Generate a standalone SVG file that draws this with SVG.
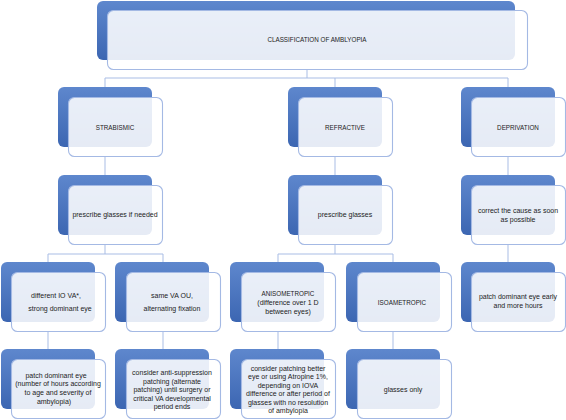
<svg xmlns="http://www.w3.org/2000/svg" width="566" height="420" viewBox="0 0 566 420">
<defs>
<linearGradient id="bg" x1="0" y1="0" x2="0" y2="1">
<stop offset="0" stop-color="#5e87cd"/>
<stop offset="1" stop-color="#3c66b2"/>
</linearGradient>
<style>
.blue{fill:url(#bg)}
.front{fill:#ffffff;fill-opacity:0.87;stroke:#a4b9e4;stroke-width:1.1}
.conn{stroke:#a9bde5;stroke-width:1;fill:none}
text{font-family:"Liberation Sans",Arial,sans-serif;font-size:7px;fill:#1c1c1c;text-anchor:middle}
.cap{font-size:6.3px}
</style>
</defs>
<rect width="566" height="420" fill="#ffffff"/>
<g id="connectors" class="conn">
<path d="M307 70V78M105 78H508M105 78V87M335 78V87M508 78V87"/>
<path d="M105 157V175M335 157V175M508 157V175"/>
<path d="M105 245V254M48 254H163M48 254V262M163 254V262"/>
<path d="M335 245V254M278 254H393M278 254V262M393 254V262"/>
<path d="M508 245V262"/>
<path d="M48 332V349M163 332V349M278 332V349M393 332V349"/>
</g>
<g id="root">
<rect class="blue" x="97" y="1" width="418" height="59" rx="6"/>
<rect class="front" x="107.5" y="10.5" width="420" height="59" rx="6"/>
<text class="cap" x="317" y="42">CLASSIFICATION OF AMBLYOPIA</text>
</g>
<g id="strabismic">
<rect class="blue" x="58" y="87" width="94" height="60" rx="6"/>
<rect class="front" x="68.5" y="97.5" width="94" height="59" rx="6"/>
<text class="cap" x="115" y="129.5">STRABISMIC</text>
</g>
<g id="refractive">
<rect class="blue" x="288" y="87" width="94" height="60" rx="6"/>
<rect class="front" x="298.5" y="97.5" width="94" height="59" rx="6"/>
<text class="cap" x="345" y="129.5">REFRACTIVE</text>
</g>
<g id="deprivation">
<rect class="blue" x="461" y="87" width="94" height="60" rx="6"/>
<rect class="front" x="471.5" y="97.5" width="94" height="59" rx="6"/>
<text class="cap" x="518" y="129.5">DEPRIVATION</text>
</g>
<g id="strab-glasses">
<rect class="blue" x="58" y="175" width="94" height="60" rx="6"/>
<rect class="front" x="68.5" y="185.5" width="94" height="59" rx="6"/>
<text x="115" y="217">prescribe glasses if needed</text>
</g>
<g id="refr-glasses">
<rect class="blue" x="288" y="175" width="94" height="60" rx="6"/>
<rect class="front" x="298.5" y="185.5" width="94" height="59" rx="6"/>
<text x="345" y="217">prescribe glasses</text>
</g>
<g id="depr-cause">
<rect class="blue" x="461" y="175" width="94" height="60" rx="6"/>
<rect class="front" x="471.5" y="185.5" width="94" height="59" rx="6"/>
<text x="518" y="212.5">correct the cause as soon</text>
<text x="518" y="221.5">as possible</text>
</g>
<g id="different-va">
<rect class="blue" x="1" y="262" width="94" height="60" rx="6"/>
<rect class="front" x="11.5" y="272.5" width="94" height="59" rx="6"/>
<text x="56" y="297.5">different IO VA*,</text>
<text x="60" y="310.5">strong dominant eye</text>
</g>
<g id="same-va">
<rect class="blue" x="115" y="262" width="94" height="60" rx="6"/>
<rect class="front" x="126.5" y="272.5" width="94" height="59" rx="6"/>
<text x="172" y="297.5">same VA OU,</text>
<text x="172" y="310.5">alternating fixation</text>
</g>
<g id="anisometropic">
<rect class="blue" x="230" y="262" width="94" height="60" rx="6"/>
<rect class="front" x="241.5" y="272.5" width="94" height="59" rx="6"/>
<text class="cap" x="288" y="295.5">ANISOMETROPIC</text>
<text x="288" y="304.5">(difference over 1 D</text>
<text x="288" y="313.5">between eyes)</text>
</g>
<g id="isoametropic">
<rect class="blue" x="346" y="262" width="94" height="60" rx="6"/>
<rect class="front" x="357.5" y="272.5" width="94" height="59" rx="6"/>
<text class="cap" x="402" y="304.5">ISOAMETROPIC</text>
</g>
<g id="depr-patch">
<rect class="blue" x="461" y="262" width="94" height="60" rx="6"/>
<rect class="front" x="471.5" y="272.5" width="94" height="59" rx="6"/>
<text x="518" y="299">patch dominant eye early</text>
<text x="518" y="308">and more hours</text>
</g>
<g id="patch-dominant">
<rect class="blue" x="1" y="349" width="94" height="60" rx="6"/>
<rect class="front" x="11.5" y="359.5" width="94" height="59" rx="6"/>
<text x="56" y="377.5">patch dominant eye</text>
<text x="58" y="386">(number of hours according</text>
<text x="58" y="394.5">to age and severity of</text>
<text x="54" y="403.5">ambylopia)</text>
</g>
<g id="anti-suppression">
<rect class="blue" x="115" y="349" width="94" height="60" rx="6"/>
<rect class="front" x="126.5" y="359.5" width="94" height="59" rx="6"/>
<text x="172" y="375">consider anti-suppression</text>
<text x="172" y="383.5">patching (alternate</text>
<text x="172" y="392">patching) until surgery or</text>
<text x="172" y="400.5">critical VA developmental</text>
<text x="172" y="409">period ends</text>
</g>
<g id="patching-better">
<rect class="blue" x="230" y="349" width="94" height="60" rx="6"/>
<rect class="front" x="241.5" y="359.5" width="94" height="59" rx="6"/>
<text x="288" y="370.5">consider patching better</text>
<text x="288" y="379">eye or using Atropine 1%,</text>
<text x="288" y="387.5">depending on IOVA</text>
<text x="288" y="396">difference or after period of</text>
<text x="288" y="404.5">glasses with no resolution</text>
<text x="288" y="413">of ambylopia</text>
</g>
<g id="glasses-only">
<rect class="blue" x="346" y="349" width="94" height="60" rx="6"/>
<rect class="front" x="357.5" y="359.5" width="94" height="59" rx="6"/>
<text x="403" y="391.5">glasses only</text>
</g>
</svg>
